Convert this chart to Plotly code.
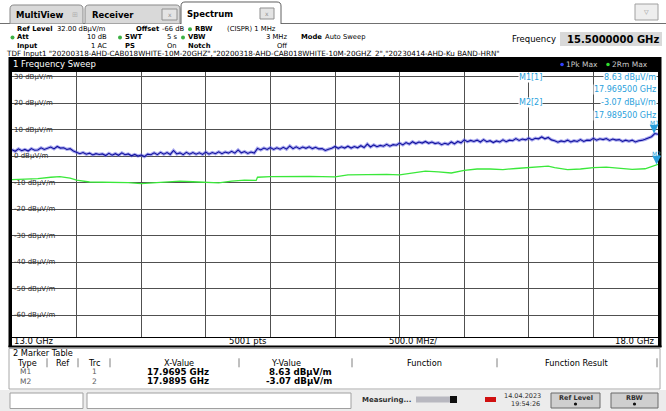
import plotly.graph_objects as go

FONT = "DejaVu Sans"
W, H = 666, 411

# ---------------- data ----------------
x_start_ghz, x_stop_ghz = 13.0, 18.0
y_ref_top, y_bottom = 32.0, -68.0
y_tick_vals = [30, 20, 10, 0, -10, -20, -30, -40, -50, -60]
y_tick_text = ["30 dBμV/m", "20 dBμV/m", "10 dBμV/m", "0 dBμV/m", "-10 dBμV/m",
               "-20 dBμV/m", "-30 dBμV/m", "-40 dBμV/m", "-50 dBμV/m", "-60 dBμV/m"]

# Trace 1 (1Pk Max) sampled every 25 MHz, 13.0 .. 18.0 GHz
trace1_step = 0.025
trace1_vals = [
    2.5, 1.9, 2.8, 2.1,  2.6, 2.0, 2.9, 2.3,  2.4, 3.2, 2.6, 3.0,  3.5, 2.8, 3.7, 3.1,
    3.2, 2.6, 2.9, 2.0,  1.6, 1.0, 1.4, 0.8,  1.2, 0.5, 1.0, 0.7,  0.9, 0.3, 1.1, 0.4,
    1.0, 0.4, 1.3, 0.6,  0.9, 0.2, 0.7, 0.1,  0.5, -0.1, 0.8, 0.6, 1.3, 0.6, 1.5, 0.8,
    1.4, 0.7, 2.2, 0.9,  1.3, 0.6, 1.5, 0.8,  1.4, 0.8, 1.3, 0.7,  1.6, 0.8, 1.4, 1.0,
    1.7, 1.0, 1.6, 1.2,  1.9, 1.2, 2.4, 1.3,  1.8, 1.1, 1.6, 1.2,  3.0, 2.4, 3.1, 2.6,
    3.3, 2.6, 3.2, 2.7,  3.4, 2.7, 3.9, 2.9,  3.6, 2.9, 3.5, 3.0,  3.6, 2.9, 3.4, 2.8,
    2.9, 2.2, 2.7, 3.0,  3.7, 3.0, 3.6, 3.1,  3.8, 3.1, 3.7, 3.2,  4.0, 3.3, 4.6, 3.5,
    4.3, 3.6, 4.1, 3.8,  4.5, 3.8, 4.4, 4.2,  5.0, 4.3, 5.2, 4.6,  5.5, 4.8, 5.4, 5.0,
    5.6, 4.9, 5.4, 4.8,  5.1, 4.4, 4.9, 4.5,  5.4, 4.7, 5.6, 5.1,  6.2, 5.5, 6.0, 5.6,
    6.1, 5.4, 6.3, 5.5,  5.9, 5.2, 5.8, 5.4,  6.2, 5.5, 6.1, 5.9,  6.7, 6.0, 6.5, 6.2,
    6.9, 6.2, 6.8, 6.6,  7.3, 6.6, 7.1, 6.2,  5.9, 5.3, 5.8, 5.5,  6.1, 5.4, 5.9, 5.6,
    6.3, 5.6, 6.1, 6.0,  6.8, 6.1, 6.6, 6.3,  6.7, 6.0, 6.5, 6.1,  6.3, 5.6, 6.1, 5.7,
    6.1, 5.4, 5.9, 6.0,  6.4, 6.9, 7.4, 8.6,  8.3,
]
trace1_freq = [round(x_start_ghz + trace1_step * i, 4) for i in range(len(trace1_vals))]

# Trace 2 (2Rm Max)
trace2_freq = [13.0, 13.1, 13.2, 13.3, 13.37, 13.45, 13.5, 13.6, 13.7, 13.8, 13.9, 14.0, 14.1,
               14.2, 14.3, 14.4, 14.5, 14.6, 14.7, 14.8, 14.89, 14.9, 15.0, 15.1, 15.2, 15.3,
               15.4, 15.5, 15.6, 15.7, 15.8, 15.9, 16.0, 16.1, 16.2, 16.3, 16.4, 16.5, 16.6,
               16.7, 16.8, 16.9, 17.0, 17.1, 17.15, 17.2, 17.3, 17.4, 17.5, 17.6, 17.7, 17.8,
               17.9, 17.95, 17.99, 18.0]
trace2_vals = [-8.8, -8.7, -8.4, -7.9, -7.7, -8.2, -9.0, -9.7, -9.8, -9.7, -9.9, -10.3, -10.0,
               -9.7, -9.4, -9.6, -9.9, -10.0, -9.4, -9.0, -9.1, -7.9, -7.7, -7.6, -7.5, -7.6,
               -7.7, -7.8, -7.0, -6.9, -6.8, -6.8, -7.0, -6.2, -5.6, -5.9, -6.3, -5.3, -4.8,
               -4.8, -5.0, -4.6, -4.2, -3.9, -3.7, -4.3, -5.0, -4.8, -4.3, -4.1, -4.4, -4.9,
               -4.7, -3.8, -3.07, -3.0]

marker_names = ["M1", "M2"]
marker_trace = [1, 2]
marker_freq = [17.9695, 17.9895]
marker_vals = [8.63, -3.07]

# ---------------- helpers ----------------
def X(px):
    return px / W

def Y(py):
    return 1 - py / H

annots = []
shapes = []

def txt(x, y, s, size=7.5, color="black", anchor="left", bold=False, bg=None, family=FONT):
    annots.append(dict(xref="paper", yref="paper", x=X(x), y=Y(y),
                       text=("<b>%s</b>" % s) if bold else s, showarrow=False,
                       xanchor=anchor, yanchor="middle", borderpad=0,
                       font=dict(size=size, color=color, family=family),
                       bgcolor=bg))

def rect(x0, y0, x1, y1, fill=None, line=None, lw=1, layer="above"):
    shapes.append(dict(type="rect", xref="paper", yref="paper",
                       x0=X(x0), x1=X(x1), y0=Y(y1), y1=Y(y0),
                       fillcolor=fill if fill else "rgba(0,0,0,0)",
                       line=dict(color=line if line else "rgba(0,0,0,0)", width=lw if line else 0),
                       layer=layer))

def hline(x0, x1, y, color, lw=1):
    shapes.append(dict(type="line", xref="paper", yref="paper", x0=X(x0), x1=X(x1),
                       y0=Y(y), y1=Y(y), line=dict(color=color, width=lw)))

def vline(x, y0, y1, color, lw=1):
    shapes.append(dict(type="line", xref="paper", yref="paper", x0=X(x), x1=X(x),
                       y0=Y(y0), y1=Y(y1), line=dict(color=color, width=lw)))

def tab(x0, x1, y0, y1, fill, line, r=4):
    p = "M %f,%f L %f,%f Q %f,%f %f,%f L %f,%f Q %f,%f %f,%f L %f,%f" % (
        X(x0), Y(y1), X(x0), Y(y0 + r), X(x0), Y(y0), X(x0 + r), Y(y0),
        X(x1 - r), Y(y0), X(x1), Y(y0), X(x1), Y(y0 + r), X(x1), Y(y1))
    shapes.append(dict(type="path", xref="paper", yref="paper", path=p,
                       fillcolor=fill, line=dict(color=line, width=1)))

def dot(x, y, color, r=2.0):
    shapes.append(dict(type="circle", xref="paper", yref="paper",
                       x0=X(x - r), x1=X(x + r), y0=Y(y + r), y1=Y(y - r),
                       fillcolor=color, line=dict(width=0)))

GREEN_DOT = "#3cb043"
MK_BLUE = "#2a9fdc"

# ---------------- tabs ----------------
hline(0, 666, 23.5, "#707070")
tab(10, 83, 5, 23.5, "#d9d9d9", "#8a8a8a")
tab(85, 180, 5, 23.5, "#d9d9d9", "#8a8a8a")
tab(181, 281, 2, 24, "#ffffff", "#606060")
rect(182, 22.5, 280, 25, fill="#ffffff")
txt(15, 15, "MultiView", size=8.5, bold=True)
txt(75, 15, "⊞", size=7, color="#b0b0b0", anchor="center")
txt(91, 15, "Receiver", size=8.5, bold=True)
rect(162, 9, 177, 20, fill="#e4e4e4", line="#909090")
txt(169.5, 14.5, "x", size=6, color="#909090", anchor="center")
txt(186, 14, "Spectrum", size=8.5, bold=True)
rect(260, 8, 274, 19, fill="#e4e4e4", line="#909090")
txt(267, 13.5, "x", size=6, color="#909090", anchor="center")
rect(635, 4, 658, 20, fill="#eeeeee", line="#a0a0a0")
txt(646.5, 12, "▽", size=6, color="#909090", anchor="center")

# ---------------- header ----------------
r1, r2, r3 = 29.2, 37.4, 45.6
BS = 6.8   # bold label size
RS = 6.8   # value size
txt(16, r1, "Ref Level", bold=True, size=BS)
txt(56, r1, "32.00 dBμV/m", size=RS)
txt(135, r1, "Offset", bold=True, size=BS)
txt(186, r1, "-66 dB", size=RS, anchor="right")
dot(190, r1, GREEN_DOT)
txt(194, r1, "RBW", bold=True, size=BS)
txt(226, r1, "(CISPR) 1 MHz", size=RS)

dot(12.5, r2, GREEN_DOT)
txt(16, r2, "Att", bold=True, size=BS)
txt(108, r2, "10 dB", anchor="right", size=RS)
dot(120, r2, GREEN_DOT)
txt(124, r2, "SWT", bold=True, size=BS)
txt(178, r2, "5 s", anchor="right", size=RS)
dot(183, r2, GREEN_DOT)
txt(187, r2, "VBW", bold=True, size=BS)
txt(288, r2, "3 MHz", anchor="right", size=RS)
txt(300, r2, "Mode", bold=True, size=BS)
txt(324, r2, "Auto Sweep", size=RS)

txt(16, r3, "Input", bold=True, size=BS)
txt(108, r3, "1 AC", anchor="right", size=RS)
txt(124, r3, "PS", bold=True, size=BS)
txt(178, r3, "On", anchor="right", size=RS)
txt(187, r3, "Notch", bold=True, size=BS)
txt(288, r3, "Off", anchor="right", size=RS)

txt(5, 53.2, 'TDF Input1 "20200318-AHD-CAB018WHITE-10M-20GHZ","20200318-AHD-CAB018WHITE-10M-20GHZ_2","20230414-AHD-Ku BAND-HRN"', size=7.2)

txt(511, 39, "Frequency", size=8.5)
rect(560, 32, 662, 46, fill="#d9d9d9")
txt(660, 39, "15.5000000 GHz", size=10, bold=True, anchor="right")

# ---------------- diagram frame ----------------
rect(9, 57, 661, 71.5, fill="#000000")
txt(12, 64.5, "1 Frequency Sweep", size=8.5, color="white")
dot(562, 64.5, "#3040ff", r=1.8)
txt(565, 64.5, "1Pk Max", size=7.5, color="#c8c8c8")
dot(608, 64.5, "#30e030", r=1.8)
txt(611, 64.5, "2Rm Max", size=7.5, color="#c8c8c8")
rect(8.5, 57, 12, 347, fill="#000000")
rect(658, 57, 661.5, 347, fill="#000000")
rect(8.5, 345.5, 661.5, 347.5, fill="#000000")

# bottom axis annotation row
txt(13, 341, "%.1f GHz" % x_start_ghz, size=8.5)
txt(248, 341, "5001 pts", size=8.5, anchor="center")
txt(388, 341, "%.1f MHz/" % ((x_stop_ghz - x_start_ghz) / 10 * 1000), size=8.5)
txt(656, 341, "%.1f GHz" % x_stop_ghz, size=8.5, anchor="right")

# ---------------- marker table ----------------
rect(9, 348.5, 660, 389, fill="#ffffff", line="#a8a8a8")
txt(12, 353.3, "2 Marker Table", size=8.2)
hy = 362.8
for xs in [47, 78, 110, 239, 352, 497, 657]:
    vline(xs, hy - 4.5, hy + 4.5, "#808080")
txt(27, hy, "Type", size=8.2, anchor="center")
txt(63, hy, "Ref", size=8.2, anchor="center")
txt(94, hy, "Trc", size=8.2, anchor="center")
txt(179, hy, "X-Value", size=8.2, anchor="center")
txt(286, hy, "Y-Value", size=8.2, anchor="center")
txt(424, hy, "Function", size=8.2, anchor="center")
txt(577, hy, "Function Result", size=8.2, anchor="center")
for i, (nm, tr, f, v) in enumerate(zip(marker_names, marker_trace, marker_freq, marker_vals)):
    ry = 371.6 + 9.8 * i
    txt(25, ry, nm, size=7.5, color="#606060", anchor="center")
    txt(94, ry, str(tr), size=7.5, color="#606060", anchor="center")
    txt(178, ry, "%.4f GHz" % f, size=8.7, bold=True, anchor="center")
    txt(333, ry, "%.2f dBμV/m" % v, size=8.7, bold=True, anchor="right")

# ---------------- status bar ----------------
rect(0, 390, 666, 411, fill="#ececec")
rect(10, 393, 83, 408.5, fill="#ffffff", line="#a0a0a0")
rect(87, 393, 351, 408.5, fill="#ffffff", line="#a0a0a0")
txt(361, 400, "Measuring...", size=7, bold=True, color="#303030")
rect(416, 396.5, 450, 402.5, fill="#b8b8c0")
rect(450, 396, 457, 403, fill="#101010")
rect(485, 397, 496, 402, fill="#d01010")
txt(503, 396.2, "14.04.2023", size=6.5, color="#303030")
txt(541, 404.2, "19:54:26", size=6.5, color="#303030", anchor="right")
for bx0, bx1, lab in [(551, 600, "Ref Level"), (611, 658, "RBW")]:
    rect(bx0, 393, bx1, 408, fill="#cfcfcf", line="#6a6a6a")
    txt((bx0 + bx1) / 2, 397.5, lab, size=6.5, bold=True, color="#303030", anchor="center")
    dot((bx0 + bx1) / 2, 404, "#101010", r=1.6)

# ---------------- plot contents ----------------
# white patches hiding the grid behind y labels (between grid and traces)
for v, lab in zip(y_tick_vals, y_tick_text):
    shapes.append(dict(type="rect", xref="paper", yref="y", x0=X(12), x1=X(14 + len(lab) * 4.05),
                       y0=v - 1.3, y1=v + 1.3, fillcolor="white", line=dict(width=0), layer="between"))
    annots.append(dict(xref="paper", yref="y", x=X(13), y=v, text=lab, showarrow=False,
                       xanchor="left", yanchor="middle", borderpad=0,
                       font=dict(size=7, color="#303030", family=FONT)))

# marker info block (top right) and marker arrows on the traces
for i, (nm, tr, f, v) in enumerate(zip(marker_names, marker_trace, marker_freq, marker_vals)):
    yy = 77.5 + 25.3 * i
    txt(518, yy, "%s[%d]" % (nm, tr), size=8, color=MK_BLUE, bg="white")
    txt(657, yy, "%.2f dBμV/m" % v, size=8, color=MK_BLUE, anchor="right", bg="white")
    txt(657, yy + 12.3, "%.6f GHz" % f, size=8, color=MK_BLUE, anchor="right", bg="white")
    annots.append(dict(xref="x", yref="y", x=f, y=v, text=nm, showarrow=True,
                       ax=0, ay=-11, arrowhead=2, arrowsize=1.1, arrowwidth=1.6,
                       arrowcolor=MK_BLUE, standoff=0, borderpad=0,
                       font=dict(size=6, color=MK_BLUE, family=FONT)))

fig = go.Figure()
fig.add_trace(go.Scatter(x=trace2_freq, y=trace2_vals, mode="lines",
                         line=dict(color="#3ae83a", width=1.3), hoverinfo="skip"))
fig.add_trace(go.Scatter(x=trace1_freq, y=trace1_vals, mode="lines",
                         line=dict(color="rgba(100,100,225,0.55)", width=3.2), hoverinfo="skip"))
fig.add_trace(go.Scatter(x=trace1_freq, y=trace1_vals, mode="lines",
                         line=dict(color="#12129e", width=1.1), hoverinfo="skip"))

fig.update_layout(
    width=W, height=H, margin=dict(l=0, r=0, t=0, b=0),
    paper_bgcolor="white", plot_bgcolor="white", showlegend=False,
    font=dict(family=FONT, size=8, color="black"),
    xaxis=dict(domain=[X(12), X(658)], range=[x_start_ghz, x_stop_ghz], dtick=0.5, tick0=13,
               showgrid=True, gridcolor="#505050", gridwidth=1, zeroline=False,
               showticklabels=False, ticks="", showline=True, linecolor="black", linewidth=1,
               mirror=True, fixedrange=True),
    yaxis=dict(domain=[Y(336.5), Y(71.5)], range=[y_bottom, y_ref_top], tickvals=y_tick_vals,
               showgrid=True, gridcolor="#505050", gridwidth=1, zeroline=False,
               showticklabels=False, ticks="", showline=True, linecolor="black", linewidth=1,
               mirror=True, fixedrange=True),
    shapes=shapes, annotations=annots,
)

fig.write_html("out.html")
